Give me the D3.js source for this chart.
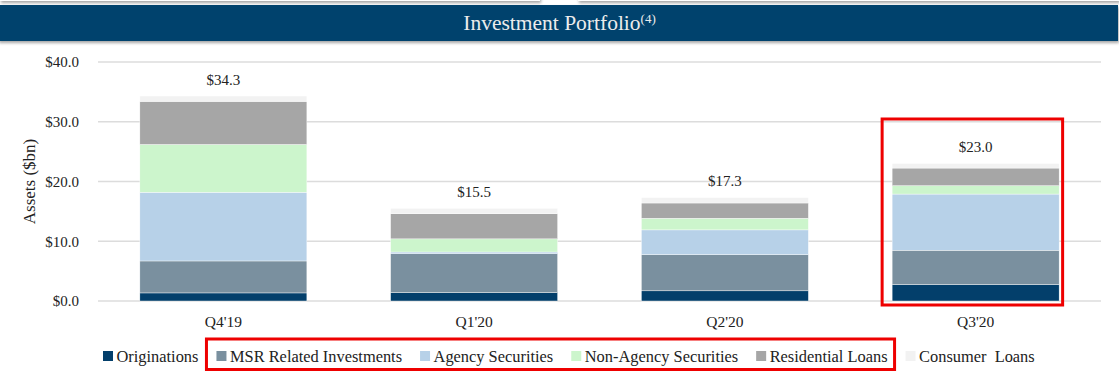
<!DOCTYPE html>
<html>
<head>
<meta charset="utf-8">
<script src="https://cdn.jsdelivr.net/npm/d3@7"></script>
<style>
  body { margin: 0; background: #fff; }
  svg { display: block; font-family: 'Liberation Serif', 'Times New Roman', serif; }
</style>
</head>
<body>
<script>
const quarters = ["Q4'19", "Q1'20", "Q2'20", "Q3'20"];
const originations = [1.35, 1.4, 1.7, 2.75];
const msrRelated = [5.35, 6.5, 6.05, 5.75];
const agencySecurities = [11.5, 0.3, 4.15, 9.4];
const nonAgencySecurities = [8.0, 2.2, 1.95, 1.4];
const residentialLoans = [7.2, 4.2, 2.55, 2.95];
const consumerLoans = [0.9, 0.9, 0.9, 0.75];
const totals = [34.3, 15.5, 17.3, 23.0];
const yTicks = [0, 10, 20, 30, 40];

const seriesNames = ['Originations', 'MSR Related Investments', 'Agency Securities',
  'Non-Agency Securities', 'Residential Loans', 'Consumer  Loans'];
const seriesValues = [originations, msrRelated, agencySecurities,
  nonAgencySecurities, residentialLoans, consumerLoans];

const width = 1119;
const height = 374;
const fmt = d3.format('$.1f');

const color = d3.scaleOrdinal()
  .domain(seriesNames)
  .range(['#033f6b', '#7a909f', '#b7d1e8', '#ccf5cc', '#a6a6a6', '#f2f2f2']);

const rows = quarters.map((q, i) => {
  const r = { quarter: q };
  seriesNames.forEach((s, j) => { r[s] = seriesValues[j][i]; });
  return r;
});
const stacked = d3.stack().keys(seriesNames)(rows);

const svg = d3.select('body')
  .append('svg')
  .attr('width', width)
  .attr('height', height);

const defs = svg.append('defs');
const shadow = defs.append('filter').attr('id', 'shadow')
  .attr('x', '-5%').attr('y', '-30%').attr('width', '110%').attr('height', '180%');
shadow.append('feDropShadow')
  .attr('dx', 1).attr('dy', 2).attr('stdDeviation', 1.5)
  .attr('flood-color', '#000').attr('flood-opacity', 0.35);

// slide edges above the banner
svg.append('rect').attr('x', 0).attr('y', -6).attr('width', 540).attr('height', 7)
  .attr('fill', '#fff').attr('filter', 'url(#shadow)');
svg.append('rect').attr('x', 578).attr('y', -6).attr('width', 541).attr('height', 7)
  .attr('fill', '#fff').attr('filter', 'url(#shadow)');

// title banner
svg.append('rect')
  .attr('x', -2).attr('y', 5).attr('width', 1120).attr('height', 36)
  .attr('fill', '#03426d')
  .attr('filter', 'url(#shadow)');

const title = svg.append('text')
  .attr('x', width / 2)
  .attr('y', 30)
  .attr('text-anchor', 'middle')
  .attr('fill', '#ececec')
  .style('font-size', '21.5px');
title.append('tspan').text('Investment Portfolio');
title.append('tspan').attr('dy', -7).style('font-size', '13px').text('(4)');

const x = d3.scaleBand()
  .domain(quarters)
  .range([98, 1101])
  .paddingInner(0.334)
  .paddingOuter(0.167);

const y = d3.scaleLinear()
  .domain([0, 40])
  .range([301, 62]);

// gridlines
svg.append('g')
  .attr('class', 'grid')
  .selectAll('line')
  .data(yTicks)
  .enter().append('line')
    .attr('x1', 98)
    .attr('x2', 1101)
    .attr('y1', d => y(d))
    .attr('y2', d => y(d))
    .style('stroke', '#dcdcdc')
    .style('stroke-width', 1.5);

// y axis
const yAxis = svg.append('g')
  .attr('transform', 'translate(80,0)')
  .call(d3.axisLeft(y).tickValues(yTicks).tickFormat(fmt).tickSize(0).tickPadding(1));
yAxis.select('.domain').remove();
yAxis.selectAll('text')
  .style('font-family', "'Liberation Serif', serif")
  .style('font-size', '15px')
  .style('fill', '#222');

svg.append('text')
  .attr('transform', `translate(35,${(y(0) + y(40)) / 2}) rotate(-90)`)
  .attr('text-anchor', 'middle')
  .style('font-size', '17px')
  .style('fill', '#222')
  .text('Assets ($bn)');

// bars
svg.append('g')
  .attr('class', 'bars')
  .selectAll('g')
  .data(stacked)
  .enter().append('g')
    .style('fill', d => color(d.key))
  .selectAll('rect')
  .data(d => d)
  .enter().append('rect')
    .attr('x', d => x(d.data.quarter))
    .attr('width', x.bandwidth())
    .attr('y', d => y(d[1]))
    .attr('height', d => y(d[0]) - y(d[1]))
    .style('stroke', '#fff')
    .style('stroke-width', 0.4);

// totals
svg.append('g')
  .selectAll('text')
  .data(quarters)
  .enter().append('text')
    .attr('x', d => x(d) + x.bandwidth() / 2)
    .attr('y', (d, i) => y(totals[i]) - 11.5)
    .attr('text-anchor', 'middle')
    .style('font-size', '15px')
    .style('fill', '#222')
    .text((d, i) => fmt(totals[i]));

// x axis labels
const xAxis = svg.append('g')
  .attr('transform', `translate(0,${y(0)})`)
  .call(d3.axisBottom(x).tickSize(0).tickPadding(15));
xAxis.select('.domain').remove();
xAxis.selectAll('text')
  .style('font-family', "'Liberation Serif', serif")
  .style('font-size', '15.5px')
  .style('fill', '#222');

// legend
const legend = svg.append('g').attr('class', 'legend');
let cursor = 103;
const itemPos = [];
seriesNames.forEach(name => {
  const g = legend.append('g').attr('transform', `translate(${cursor},0)`);
  g.append('rect')
    .attr('x', 0).attr('y', 351)
    .attr('width', 10).attr('height', 10)
    .style('fill', color(name));
  const t = g.append('text')
    .attr('x', 13.5).attr('y', 361.5)
    .style('font-size', '16.4px')
    .style('fill', '#222')
    .style('white-space', 'pre')
    .attr('xml:space', 'preserve')
    .text(name);
  const w = t.node().getComputedTextLength();
  itemPos.push({ start: cursor, end: cursor + 13.5 + w });
  cursor += 13.5 + w + 18;
});

// highlight boxes
const q3 = quarters[3];
svg.append('rect')
  .attr('x', x(q3) - 10)
  .attr('y', y(40) + 57)
  .attr('width', x.bandwidth() + 13.5)
  .attr('height', y(0) + 4 - (y(40) + 57))
  .style('fill', 'none')
  .style('stroke', '#ee0000')
  .style('stroke-width', 3);

svg.append('rect')
  .attr('x', itemPos[1].start - 10)
  .attr('y', 339)
  .attr('width', itemPos[4].end - itemPos[1].start + 17)
  .attr('height', 30.5)
  .style('fill', 'none')
  .style('stroke', '#ee0000')
  .style('stroke-width', 3);
</script>
</body>
</html>
